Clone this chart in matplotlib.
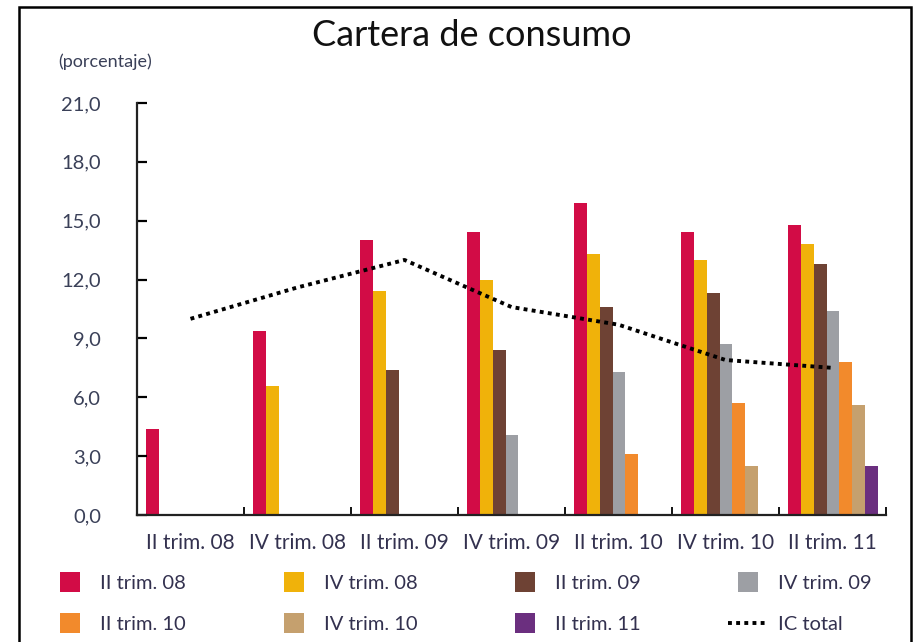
import numpy as np
from matplotlib import pyplot as plt
from matplotlib.patches import Rectangle
from matplotlib.lines import Line2D

plt.rcParams['font.family'] = ['Lato', 'DejaVu Sans']

categorias = ['II trim. 08', 'IV trim. 08', 'II trim. 09', 'IV trim. 09',
              'II trim. 10', 'IV trim. 10', 'II trim. 11']

# each cohort starts at its own semester
s_2t08 = [4.4, 9.4, 14.0, 14.4, 15.9, 14.4, 14.8]
s_4t08 = [6.6, 11.4, 12.0, 13.3, 13.0, 13.8]
s_2t09 = [7.4, 8.4, 10.6, 11.3, 12.8]
s_4t09 = [4.1, 7.3, 8.7, 10.4]
s_2t10 = [3.1, 5.7, 7.8]
s_4t10 = [2.5, 5.6]
s_2t11 = [2.5]

ic_total = [10.0, 11.6, 13.0, 10.6, 9.7, 7.9, 7.5]

series = [s_2t08, s_4t08, s_2t09, s_4t09, s_2t10, s_4t10, s_2t11]
nombres = ['II trim. 08', 'IV trim. 08', 'II trim. 09', 'IV trim. 09',
           'II trim. 10', 'IV trim. 10', 'II trim. 11']
colores = ['#d20c46', '#f0b20a', '#6e4234', '#9d9fa4', '#f28a2c', '#c5a06e', '#6b2f7f']

yticks = [0, 3, 6, 9, 12, 15, 18, 21]

txt_color = '#33314f'

fig = plt.figure(figsize=(9.15, 6.42), dpi=100)
ax = fig.add_axes([137/915, 1-515/642, (886-137)/915, (515-103)/642])

n = len(categorias)
ancho = 0.12
offset = 0.085
for j, vals in enumerate(series):
    ind = np.arange(j, n)
    ax.bar(ind - 0.5 + offset + j*ancho, vals, ancho, align='edge',
           color=colores[j], linewidth=0)

ax.plot(np.arange(n), ic_total, color='black', lw=2.8,
        linestyle=(0, (1, 1.1)), dash_capstyle='butt')

ax.set_xlim(-0.5, n - 0.5)
ax.set_ylim(0, 21)
for s in ['top', 'right']:
    ax.spines[s].set_visible(False)
for s in ['left', 'bottom']:
    ax.spines[s].set_linewidth(1.6)
    ax.spines[s].set_color('#222222')

ax.set_yticks(yticks)
ax.set_yticklabels([('%.1f' % v).replace('.', ',') for v in yticks],
                   color='#3a4058', fontsize=14.5)
ax.tick_params(axis='y', direction='in', length=7, width=1.6, pad=26)

ax.set_xticks(np.arange(n + 1) - 0.5)
ax.set_xticklabels([])
ax.tick_params(axis='x', which='major', direction='in', length=6, width=1.3)
ax.set_xticks(np.arange(n), minor=True)
ax.set_xticklabels(categorias, minor=True, color=txt_color, fontsize=15)
ax.tick_params(axis='x', which='minor', length=0, pad=13)

fig.text(472/915, 1-36/642, 'Cartera de consumo', ha='center', va='center',
         fontsize=26, color='#111111')
fig.text(58/915, 1-62/642, '(porcentaje)', ha='left', va='center',
         fontsize=13, color='#3a4058')

handles = [Line2D([], [], marker='s', markersize=14, linestyle='none',
                  color=c, markeredgewidth=0) for c in colores]
handles.append(Line2D([], [], color='black', lw=2.8, linestyle=(0, (1, 1.1))))
labels = nombres + ['IC total']
orden = [0, 4, 1, 5, 2, 6, 3, 7]
leg = fig.legend([handles[k] for k in orden], [labels[k] for k in orden],
                 ncol=4, loc='upper left', mode='expand',
                 bbox_to_anchor=(42/915, 1-573/642, (880-42)/915, 0.01),
                 frameon=False, fontsize=14.5, handlelength=2.0,
                 handletextpad=0.5, labelspacing=1.2, borderaxespad=0)
for t in leg.get_texts():
    t.set_color(txt_color)

fig.patches.append(Rectangle((19/915, -0.05), (911-19)/915, 1-7/642+0.05,
                             transform=fig.transFigure, fill=False,
                             lw=1.8, ec='black'))

fig.savefig('out.png', dpi=100)
